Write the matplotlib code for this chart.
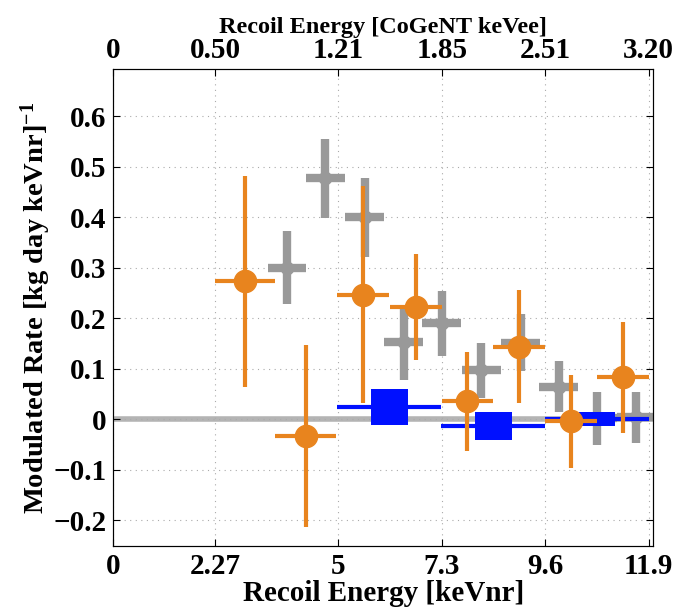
import numpy as np
import matplotlib
matplotlib.use("Agg")
import matplotlib.pyplot as plt

plt.rcParams['font.family'] = ['Liberation Serif', 'DejaVu Serif']
plt.rcParams['font.weight'] = 'bold'
plt.rcParams['mathtext.fontset'] = 'custom'
plt.rcParams['mathtext.rm'] = 'Liberation Serif:bold'
plt.rcParams['mathtext.bf'] = 'Liberation Serif:bold'
plt.rcParams['mathtext.default'] = 'bf'

# gray crosses
gray_x = [3.86, 4.71, 5.59, 6.45, 7.30, 8.18, 9.05, 9.90, 10.76, 11.62]
gray_y = [0.300, 0.477, 0.400, 0.153, 0.190, 0.097, 0.152, 0.065, 0.002, 0.004]
gray_yerr = [0.072, 0.078, 0.078, 0.074, 0.064, 0.055, 0.057, 0.050, 0.052, 0.050]
gray_xerr = 0.43

# orange circles
orange_x = [2.93, 4.28, 5.55, 6.72, 7.87, 9.02, 10.17, 11.32]
orange_y = [0.273, -0.033, 0.247, 0.223, 0.036, 0.144, -0.004, 0.083]
orange_yerr = [0.208, 0.180, 0.215, 0.105, 0.098, 0.112, 0.092, 0.110]
orange_xerr = [0.66, 0.68, 0.58, 0.58, 0.57, 0.58, 0.58, 0.58]

# blue boxes
blue_x = [6.13, 8.44, 10.75]
blue_y = [0.024, -0.013, 0.0]
blue_yerr = [0.036, 0.028, 0.014]
blue_xerr = [1.16, 1.15, 1.15]
blue_box_w = 0.82

tick_nr = [0, 2.27, 5, 7.3, 9.6, 11.9]
tick_nr_labels = ['0', '2.27', '5', '7.3', '9.6', '11.9']
tick_ee_labels = ['0', '0.50', '1.21', '1.85', '2.51', '3.20']
y_ticks = np.round(np.arange(-0.2, 0.61, 0.1), 1)

fig = plt.figure(figsize=(6.76, 6.09), dpi=100)
ax = fig.add_axes([0.1676, 0.1039, 0.7988, 0.7823])

ax.axhline(0, color='#b4b4b4', lw=4, zorder=1)

ax.errorbar(gray_x, gray_y, yerr=gray_yerr, xerr=gray_xerr, fmt='o',
            color='#999999', ms=9, elinewidth=6, capsize=0, zorder=2)
ax.errorbar(blue_x, blue_y, xerr=blue_xerr, fmt='none', ecolor='#0010ff',
            elinewidth=3, capsize=0, zorder=3)
ax.bar(blue_x, [2 * e for e in blue_yerr],
       bottom=[y - e for y, e in zip(blue_y, blue_yerr)],
       width=blue_box_w, color='#0010ff', zorder=4)
ax.errorbar(orange_x, orange_y, yerr=orange_yerr, xerr=orange_xerr, fmt='o',
            color='#e8841e', ms=16, elinewidth=3, capsize=0, zorder=5)

ax.set_xlim(0, 12)
ax.set_ylim(-0.25, 0.693)
ax.set_xticks(tick_nr)
ax.set_xticklabels(tick_nr_labels)
ax.set_yticks(y_ticks)
ax.set_yticklabels(['\u22120.2', '\u22120.1', '0', '0.1', '0.2', '0.3', '0.4', '0.5', '0.6'])
ax.grid(True, ls=(0, (1, 4)), color='#aaaaaa', lw=0.8)
ax.tick_params(direction='in', length=5, labelsize=21, right=True, pad=5)
ax.set_xlabel('Recoil Energy [keVnr]', fontsize=21, fontweight='bold', labelpad=0)
ax.set_ylabel('Modulated Rate [kg day keVnr]$^{-1}$', fontsize=20.5,
              fontweight='bold', labelpad=0)
for s in ax.spines.values():
    s.set_color('#333333')

top = ax.twiny()
top.set_xlim(ax.get_xlim())
top.set_xticks(tick_nr)
top.set_xticklabels(tick_ee_labels)
top.tick_params(direction='in', length=5, labelsize=21, pad=4)
top.set_xlabel('Recoil Energy [CoGeNT keVee]', fontsize=17.5, fontweight='bold', labelpad=3)

fig.savefig('out.png', dpi=100)
